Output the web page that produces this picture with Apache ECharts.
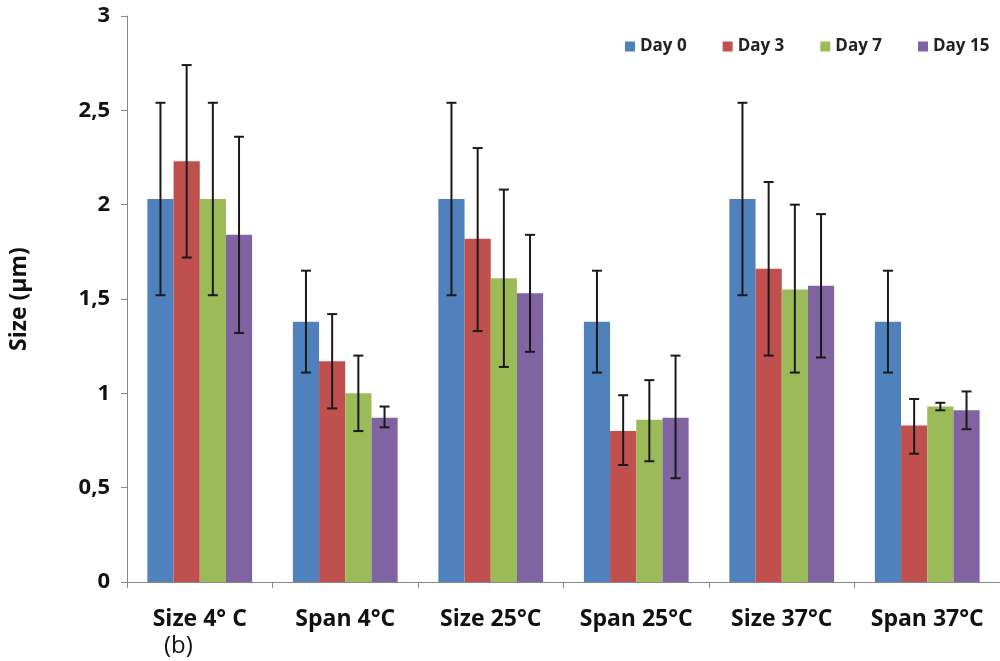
<!DOCTYPE html>
<html>
<head>
<meta charset="utf-8">
<script src="https://cdn.jsdelivr.net/npm/echarts@6/dist/echarts.min.js"></script>
<style>
  html, body { margin: 0; padding: 0; background: #fff; }
  #chart { width: 1000px; height: 661px; }
</style>
</head>
<body>
<div id="chart"></div>
<script>
// categories + values
var categories = ['Size 4° C', 'Span 4°C', 'Size 25°C', 'Span 25°C', 'Size 37°C', 'Span 37°C'];
var seriesNames = ['Day 0', 'Day 3', 'Day 7', 'Day 15'];
var day0 = [2.03, 1.38, 2.03, 1.38, 2.03, 1.38];
var day3 = [2.23, 1.17, 1.82, 0.80, 1.66, 0.83];
var day7 = [2.03, 1.00, 1.61, 0.86, 1.55, 0.93];
var day15 = [1.84, 0.87, 1.53, 0.87, 1.57, 0.91];
// error bar ends (low / high)
var day0Low = [1.52, 1.11, 1.52, 1.11, 1.52, 1.11];
var day0High = [2.54, 1.65, 2.54, 1.65, 2.54, 1.65];
var day3Low = [1.72, 0.92, 1.33, 0.62, 1.20, 0.68];
var day3High = [2.74, 1.42, 2.30, 0.99, 2.12, 0.97];
var day7Low = [1.52, 0.80, 1.14, 0.64, 1.11, 0.91];
var day7High = [2.54, 1.20, 2.08, 1.07, 2.00, 0.95];
var day15Low = [1.32, 0.82, 1.22, 0.55, 1.19, 0.81];
var day15High = [2.36, 0.93, 1.84, 1.20, 1.95, 1.01];
var yTicks = [0, 0.5, 1, 1.5, 2, 2.5, 3];

var colors = ['#4F81BD', '#C0504D', '#9BBB59', '#8064A2'];
var values = [day0, day3, day7, day15];
var lows = [day0Low, day3Low, day7Low, day15Low];
var highs = [day0High, day3High, day7High, day15High];
var barFrac = 0.18;

var chart = echarts.init(document.getElementById('chart'));

function errorSeries(idx) {
  var data = categories.map(function (c, i) { return [i, lows[idx][i], highs[idx][i]]; });
  return {
    type: 'custom',
    name: seriesNames[idx] + ' err',
    data: data,
    z: 10,
    silent: true,
    renderItem: function (params, api) {
      var band = api.size([1, 0])[0];
      var bw = band * barFrac;
      var lo = api.coord([api.value(0), api.value(1)]);
      var hi = api.coord([api.value(0), api.value(2)]);
      var x = lo[0] + (idx - 1.5) * bw;
      var cap = 5;
      var st = { stroke: '#1a1a1a', lineWidth: 2 };
      return {
        type: 'group',
        children: [
          { type: 'line', shape: { x1: x, y1: lo[1], x2: x, y2: hi[1] }, style: st },
          { type: 'line', shape: { x1: x - cap, y1: hi[1], x2: x + cap, y2: hi[1] }, style: st },
          { type: 'line', shape: { x1: x - cap, y1: lo[1], x2: x + cap, y2: lo[1] }, style: st }
        ]
      };
    }
  };
}

var series = [];
values.forEach(function (v, i) {
  series.push({
    type: 'bar',
    name: seriesNames[i],
    data: v,
    barWidth: (barFrac * 100) + '%',
    barGap: '0%',
    itemStyle: { color: colors[i] }
  });
});
values.forEach(function (v, i) { series.push(errorSeries(i)); });

chart.setOption({
  animation: false,
  textStyle: { fontFamily: 'Open Sans' },
  legend: {
    data: seriesNames,
    top: 33,
    left: 620,
    icon: 'rect',
    itemWidth: 10,
    itemHeight: 10,
    itemGap: 36,
    itemTextGap: 4,
    textStyle: { fontSize: 17, fontWeight: 'bold', color: '#222', fontFamily: 'Open Sans' }
  },
  grid: { left: 126, top: 16, width: 880, height: 566 },
  xAxis: {
    type: 'category',
    data: categories,
    axisLine: { lineStyle: { color: '#868686', width: 1 } },
    axisTick: { show: true, length: 6, lineStyle: { color: '#868686' } },
    axisLabel: { fontSize: 23, fontWeight: 'bold', color: '#111', margin: 26, interval: 0 }
  },
  yAxis: {
    type: 'value',
    min: 0,
    max: 3,
    interval: 0.5,
    name: 'Size (µm)',
    nameLocation: 'middle',
    nameGap: 96,
    nameTextStyle: { fontSize: 23, fontWeight: 'bold', color: '#111' },
    axisLine: { show: true, lineStyle: { color: '#868686' } },
    axisTick: { show: true, length: 6, lineStyle: { color: '#868686' } },
    splitLine: { show: false },
    axisLabel: {
      fontSize: 22, fontWeight: 'bold', color: '#111', margin: 17,
      formatter: function (v) { return String(v).replace('.', ','); }
    }
  },
  graphic: [{
    type: 'text',
    left: 164,
    top: 634,
    style: { text: '(b)', fontSize: 24, fill: '#111', fontFamily: 'Open Sans' }
  }],
  series: series
});
</script>
</body>
</html>
